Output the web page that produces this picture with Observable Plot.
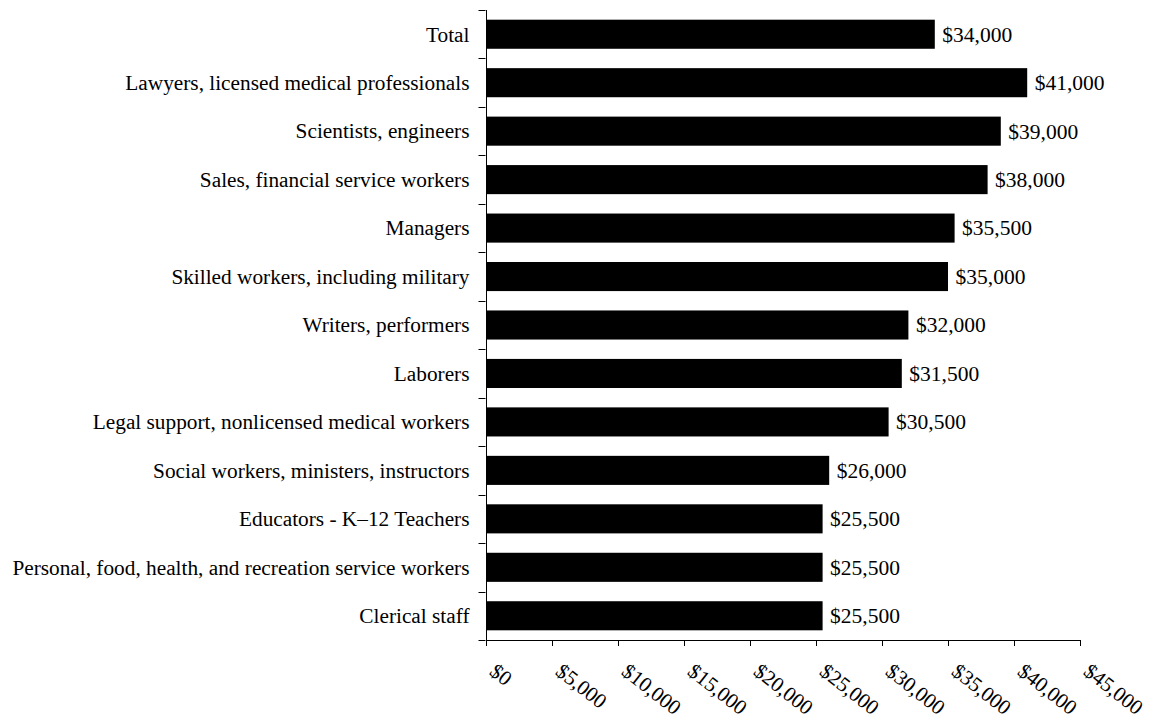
<!DOCTYPE html>
<html>
<head>
<meta charset="utf-8">
<script src="https://cdn.jsdelivr.net/npm/d3@7"></script>
<script src="https://cdn.jsdelivr.net/npm/@observablehq/plot@0.6"></script>
<style>
  html, body { margin: 0; padding: 0; background: #fff; }
  #chart { width: 1151px; height: 721px; }
</style>
</head>
<body>
<div id="chart"></div>
<script>
const categories = [
  "Total",
  "Lawyers, licensed medical professionals",
  "Scientists, engineers",
  "Sales, financial service workers",
  "Managers",
  "Skilled workers, including military",
  "Writers, performers",
  "Laborers",
  "Legal support, nonlicensed medical workers",
  "Social workers, ministers, instructors",
  "Educators - K\u201312 Teachers",
  "Personal, food, health, and recreation service workers",
  "Clerical staff"
];
const salaries = [34000, 41000, 39000, 38000, 35500, 35000, 32000, 31500, 30500, 26000, 25500, 25500, 25500];
const xTicks = [0, 5000, 10000, 15000, 20000, 25000, 30000, 35000, 40000, 45000];

const data = categories.map((c, i) => ({category: c, salary: salaries[i]}));
const money = d => "$" + d3.format(",")(d);
const FONT = "'Times New Roman', 'Liberation Serif', serif";

function yBoundaryTicks(index, scales, values, dimensions) {
  const y = scales.y;
  const dom = y.domain();
  const step = y.step();
  const bw = y.bandwidth();
  const half = (step - bw) / 2;
  const bounds = dom.map(d => y(d) - half);
  bounds.push(y(dom[dom.length - 1]) + bw + half);
  const x0 = dimensions.marginLeft - 0.5;
  const g = d3.create("svg:g").attr("stroke", "#000").attr("stroke-width", 1);
  for (const b of bounds) {
    g.append("line").attr("x1", x0 - 7).attr("x2", x0).attr("y1", Math.round(b) + 0.5).attr("y2", Math.round(b) + 0.5);
  }
  return g.node();
}

const chart = Plot.plot({
  width: 1151,
  height: 721,
  marginTop: 10,
  marginBottom: 81,
  marginLeft: 486,
  marginRight: 71,
  style: {fontFamily: FONT, fontSize: "21.3px", color: "#000", background: "#fff"},
  x: {domain: [0, 45000]},
  y: {domain: categories, paddingInner: 0.4, paddingOuter: 0.2, round: false},
  marks: [
    Plot.barX(data, {x: "salary", y: "category", fill: "#000"}),
    Plot.text(data, {x: "salary", y: "category", text: d => money(d.salary), textAnchor: "start", dx: 7, fill: "#000", fontSize: 21.5}),
    Plot.ruleX([0], {stroke: "#000"}),
    Plot.frame({anchor: "bottom", stroke: "#000"}),
    yBoundaryTicks,
    Plot.axisY({tickSize: 0, tickPadding: 17, label: null, fontSize: 21.3}),
    Plot.axisX({ticks: xTicks, tickFormat: () => "", tickSize: 6, label: null}),
    Plot.axisX({ticks: xTicks, tickFormat: money, tickSize: 0, tickRotate: 38, textAnchor: "start", tickPadding: 28, dx: 6, label: null, fontSize: 21})
  ]
});
document.getElementById("chart").appendChild(chart);
</script>
</body>
</html>
